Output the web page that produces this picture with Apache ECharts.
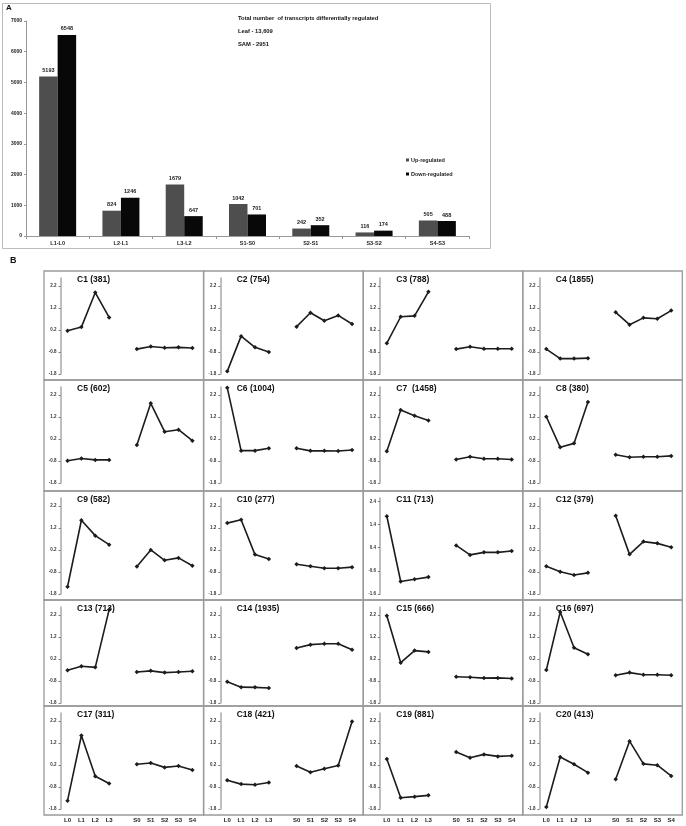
<!DOCTYPE html>
<html><head><meta charset="utf-8">
<script src="https://cdn.jsdelivr.net/npm/echarts@6/dist/echarts.min.js"></script>
<style>html,body{margin:0;padding:0;background:#fff}#c{width:686px;height:826px}</style>
</head><body><div id="c"></div>
<script>
// ---- Panel A data ----
const barCats = ['L1-L0','L2-L1','L3-L2','S1-S0','S2-S1','S3-S2','S4-S3'];
const upReg = [5193, 824, 1679, 1042, 242, 116, 505];
const downReg = [6548, 1246, 647, 701, 352, 174, 488];
const barYTicks = [0, 1000, 2000, 3000, 4000, 5000, 6000, 7000];

// ---- Panel B data ----
const profileCats = ['L0','L1','L2','L3','','S0','S1','S2','S3','S4'];
const clusterLabels = ['C1 (381)','C2 (754)','C3 (788)','C4 (1855)','C5 (602)','C6 (1004)','C7  (1458)','C8 (380)',
  'C9 (582)','C10 (277)','C11 (713)','C12 (379)','C13 (713)','C14 (1935)','C15 (666)','C16 (697)',
  'C17 (311)','C18 (421)','C19 (881)','C20 (413)'];
const leafProfiles = [
  [0.16, 0.33, 1.90, 0.77],
  [-1.68, -0.08, -0.59, -0.80],
  [-0.40, 0.80, 0.84, 1.93],
  [-0.67, -1.10, -1.10, -1.08],
  [-0.79, -0.69, -0.75, -0.75],
  [2.53, -0.33, -0.33, -0.22],
  [-0.36, 1.52, 1.25, 1.04],
  [1.21, -0.18, 0.00, 1.88],
  [-1.47, 1.55, 0.85, 0.44],
  [1.42, 1.57, -0.01, -0.21],
  [1.76, -1.06, -0.96, -0.87],
  [-0.54, -0.79, -0.94, -0.84],
  [-0.31, -0.13, -0.18, 2.44],
  [-0.84, -1.08, -1.09, -1.12],
  [2.16, 0.03, 0.58, 0.52],
  [-0.30, 2.33, 0.71, 0.41],
  [-1.42, 1.54, -0.31, -0.64],
  [-0.49, -0.67, -0.70, -0.60],
  [0.47, -1.29, -1.24, -1.18],
  [-1.71, 0.56, 0.23, -0.15]
];
const samProfiles = [
  [-0.67, -0.55, -0.61, -0.59, -0.62],
  [0.35, 0.98, 0.62, 0.86, 0.47],
  [-0.67, -0.56, -0.65, -0.65, -0.65],
  [1.00, 0.44, 0.75, 0.71, 1.08],
  [-0.07, 1.82, 0.53, 0.62, 0.12],
  [-0.22, -0.34, -0.34, -0.35, -0.30],
  [-0.73, -0.61, -0.70, -0.70, -0.73],
  [-0.52, -0.63, -0.61, -0.61, -0.57],
  [-0.55, 0.20, -0.27, -0.16, -0.52],
  [-0.45, -0.54, -0.63, -0.63, -0.58],
  [0.50, 0.09, 0.20, 0.20, 0.26],
  [1.75, 0.00, 0.58, 0.50, 0.32],
  [-0.39, -0.34, -0.42, -0.39, -0.36],
  [0.70, 0.85, 0.89, 0.89, 0.62],
  [-0.61, -0.63, -0.67, -0.66, -0.69],
  [-0.54, -0.42, -0.52, -0.52, -0.54],
  [0.23, 0.29, 0.09, 0.15, -0.03],
  [0.15, -0.13, 0.03, 0.18, 2.17],
  [0.79, 0.53, 0.68, 0.59, 0.62],
  [-0.45, 1.28, 0.25, 0.19, -0.30]
];
const yTicksStd = [-1.8, -0.8, 0.2, 1.2, 2.2];
const yTicksC11 = [-1.6, -0.6, 0.4, 1.4, 2.4];

// ---- Layout ----
const FONT = '"Liberation Sans", Arial, sans-serif';
const colLefts = [44, 203.7, 363.3, 522.8];
const colW = 159.5;
const rowTops = [271, 380, 491, 600, 706];
const rowBottoms = [380, 491, 600, 706, 815];

const grids = [], xAxes = [], yAxes = [], series = [], graphics = [];

// Panel A
grids.push({left: 26, top: 21, width: 443, height: 215});
xAxes.push({type: 'category', gridIndex: 0, data: barCats,
  axisLine: {lineStyle: {color: '#999', width: 1}},
  axisTick: {show: true, length: 3, lineStyle: {color: '#999'}},
  axisLabel: {fontSize: 5.5, fontWeight: 'bold', color: '#222', margin: 4, fontFamily: FONT}});
yAxes.push({type: 'value', gridIndex: 0, min: 0, max: 7000, interval: 1000,
  axisLine: {show: true, lineStyle: {color: '#999', width: 1}},
  axisTick: {show: true, length: 2, lineStyle: {color: '#999'}},
  splitLine: {show: false},
  axisLabel: {fontSize: 5, fontWeight: 'bold', color: '#222', margin: 4, fontFamily: FONT,
    customValues: barYTicks, formatter: v => String(v)}});
series.push({name: 'Up-regulated', type: 'bar', xAxisIndex: 0, yAxisIndex: 0, data: upReg,
  barWidth: 18.5, barGap: '0%', itemStyle: {color: '#4e4e4e'},
  label: {show: true, position: 'top', distance: 3, fontSize: 5.5, fontWeight: 'bold', color: '#222', fontFamily: FONT}});
series.push({name: 'Down-regulated', type: 'bar', xAxisIndex: 0, yAxisIndex: 0, data: downReg,
  barWidth: 18.5, barGap: '0%', itemStyle: {color: '#080808'},
  label: {show: true, position: 'top', distance: 3, fontSize: 5.5, fontWeight: 'bold', color: '#222', fontFamily: FONT}});

graphics.push({type: 'rect', shape: {x: 2.5, y: 3.5, width: 488, height: 245}, style: {fill: 'none', stroke: '#bbb', lineWidth: 1}, silent: true});
graphics.push({type: 'text', x: 6, y: 8, style: {text: 'A', font: 'bold 8px ' + FONT, fill: '#111', verticalAlign: 'middle'}});
graphics.push({type: 'text', x: 238, y: 18, style: {text: 'Total number  of transcripts differentially regulated', font: 'bold 5.8px ' + FONT, fill: '#111', verticalAlign: 'middle'}});
graphics.push({type: 'text', x: 238, y: 31, style: {text: 'Leaf - 13,609', font: 'bold 5.8px ' + FONT, fill: '#111', verticalAlign: 'middle'}});
graphics.push({type: 'text', x: 238, y: 44, style: {text: 'SAM - 2951', font: 'bold 5.8px ' + FONT, fill: '#111', verticalAlign: 'middle'}});
graphics.push({type: 'text', x: 10, y: 261, style: {text: 'B', font: 'bold 9px ' + FONT, fill: '#111', verticalAlign: 'middle'}});

// Panel B
for (let i = 0; i < 20; i++) {
  const r = Math.floor(i / 4), c = i % 4;
  const gi = i + 1;
  const left = colLefts[c] + 16.6;
  const top = rowTops[r] + 7;
  const isC11 = (i === 10);
  grids.push({left: left, top: top, width: 138.7, height: 96});
  xAxes.push({type: 'category', gridIndex: gi, data: profileCats, boundaryGap: true,
    axisLine: {show: false}, axisTick: {show: false},
    axisLabel: {show: r === 4, interval: 0, fontSize: 6, fontWeight: 'bold', color: '#222', margin: 8, fontFamily: FONT}});
  yAxes.push({type: 'value', gridIndex: gi,
    min: isC11 ? -1.6 : -1.8, max: isC11 ? 2.55 : 2.56,
    axisLine: {show: true, lineStyle: {color: '#a8a8a8', width: 1.5}},
    axisTick: {show: true, length: 2, lineStyle: {color: '#777'}, customValues: isC11 ? yTicksC11 : yTicksStd},
    splitLine: {show: false},
    axisLabel: {fontSize: 4.5, fontWeight: 'bold', color: '#333', margin: 4, fontFamily: FONT,
      customValues: isC11 ? yTicksC11 : yTicksStd, formatter: v => v.toFixed(1)}});
  const leafData = leafProfiles[i].concat([null, null, null, null, null, null]);
  const samData = [null, null, null, null, null].concat(samProfiles[i]);
  const lineCommon = {type: 'line', xAxisIndex: gi, yAxisIndex: gi, symbol: 'diamond', symbolSize: 4.5,
    lineStyle: {color: '#1c1c1c', width: 1.6}, itemStyle: {color: '#1c1c1c'}, connectNulls: false, silent: true};
  series.push(Object.assign({name: 'leaf' + i, data: leafData}, lineCommon));
  series.push(Object.assign({name: 'sam' + i, data: samData}, lineCommon));
  graphics.push({type: 'rect', shape: {x: colLefts[c], y: rowTops[r], width: colW, height: rowBottoms[r] - rowTops[r]},
    style: {fill: 'none', stroke: '#9a9a9a', lineWidth: 1.3}, silent: true});
  graphics.push({type: 'text', x: colLefts[c] + 33, y: rowTops[r] + 9,
    style: {text: clusterLabels[i], font: 'bold 8.5px ' + FONT, fill: '#111', verticalAlign: 'middle'}});
}

const chart = echarts.init(document.getElementById('c'), null, {renderer: 'canvas', width: 686, height: 826});
chart.setOption({
  backgroundColor: '#fff',
  animation: false,
  textStyle: {fontFamily: FONT},
  grid: grids, xAxis: xAxes, yAxis: yAxes, series: series,
  legend: {data: ['Up-regulated', 'Down-regulated'], orient: 'vertical', left: 401, top: 152,
    icon: 'rect', itemWidth: 3, itemHeight: 3, itemGap: 8,
    textStyle: {fontSize: 5.5, fontWeight: 'bold', color: '#222', padding: [0, 0, 0, -3], fontFamily: FONT}},
  graphic: graphics
});
</script></body></html>
